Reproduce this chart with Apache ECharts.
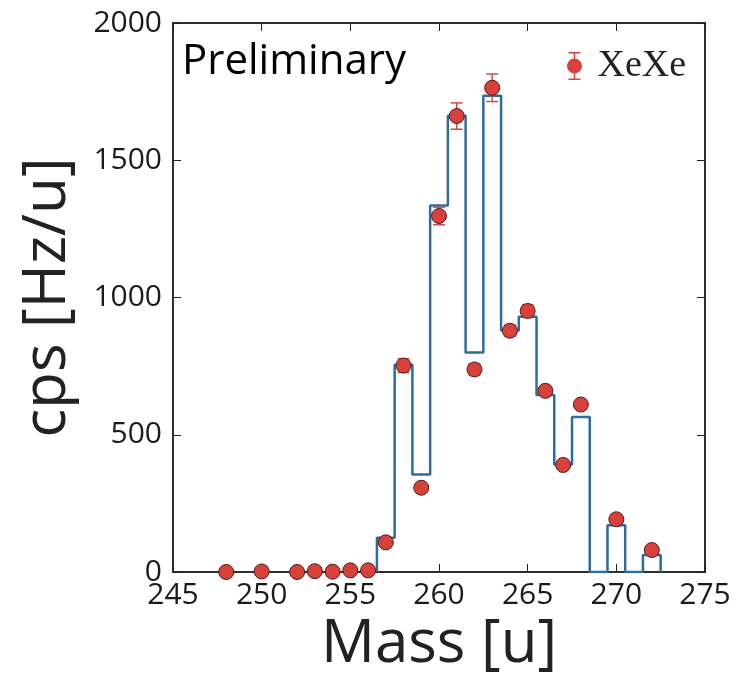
<!DOCTYPE html>
<html>
<head>
<meta charset="utf-8">
<script src="https://cdn.jsdelivr.net/npm/echarts@6/dist/echarts.min.js"></script>
<style>
  html, body { margin: 0; padding: 0; background: #fff; }
  #main { width: 743px; height: 674px; }
</style>
</head>
<body>
<div id="main"></div>
<script>
// histogram bins (bin centres) and their heights
var binMass = [257, 258, 259, 260, 261, 262, 263, 264, 265, 266, 267, 268, 269, 270, 271, 272];
var binCps = [125, 755, 355, 1335, 1662, 800, 1735, 880, 930, 645, 392, 565, 0, 170, 0, 62];

// measured points with error bars
var dotMass = [248, 250, 252, 253, 254, 255, 256, 257, 258, 259, 260, 261, 262,
  263, 264, 265, 266, 267, 268, 270, 272];
var dotCps = [0, 2, 0, 3, 1, 6, 6, 108, 752, 307, 1297, 1661, 738,
  1764, 879, 951, 660, 390, 610, 192, 80];
var dotErr = [3, 10, 3, 4, 4, 10, 10, 15, 25, 15, 32, 48, 20,
  50, 20, 22, 15, 12, 15, 10, 8];

var xTicks = [245, 250, 255, 260, 265, 270, 275];
var yTicks = [0, 500, 1000, 1500, 2000];

var chart = echarts.init(document.getElementById("main"));

// step line: rise from 0 at the first edge, left edge of each bin, close at last edge
var histData = [[binMass[0] - 0.5, 0]];
binMass.forEach(function (m, i) { histData.push([m - 0.5, binCps[i]]); });
histData.push([binMass[binMass.length - 1] + 0.5, 0]);

var dotData = dotMass.map(function (m, i) { return [m, dotCps[i]]; });
var errData = dotMass.map(function (m, i) { return [m, dotCps[i] - dotErr[i], dotCps[i] + dotErr[i]]; });

var tickFont = { fontFamily: "Open Sans", fontSize: 30, color: "#1a1a1a" };
var frame = { show: true, onZero: false, lineStyle: { color: "#222", width: 1.5 } };
var ticks = { show: true, inside: true, length: 8, lineStyle: { color: "#222" } };

var option = {
  animation: false,
  grid: {
    left: 173, right: 38, top: 23, bottom: 102,
    outerBoundsMode: "none",
    show: true, borderColor: "#222", borderWidth: 1.5
  },
  legend: {
    data: ["XeXe"],
    left: 562,
    top: 42,
    icon: "path://M7.3,0H8.7V28H7.3Z M2,0H14V1.4H2Z M2,26.6H14V28H2Z M8,6.5A7.5,7.5,0,1,1,7.99,6.5Z",
    itemWidth: 16,
    itemHeight: 28,
    itemStyle: { color: "#d9403a", borderWidth: 0 },
    textStyle: { fontFamily: "Liberation Serif", fontSize: 38, color: "#222", padding: [0, 0, 0, 10] }
  },
  graphic: [{
    type: "text",
    left: 182,
    top: 41,
    style: { text: "Preliminary", fontFamily: "Open Sans", fontSize: 42, fill: "#000" }
  }],
  xAxis: [{
    type: "value",
    min: 245, max: 275, interval: 5,
    name: "Mass [u]",
    nameLocation: "middle",
    nameGap: 34,
    nameTextStyle: { fontFamily: "Open Sans", fontSize: 60, color: "#222" },
    axisLine: frame,
    axisTick: ticks,
    axisLabel: Object.assign({ margin: 8, customValues: xTicks }, tickFont),
    splitLine: { show: false }
  }, {
    type: "value", position: "top",
    min: 245, max: 275, interval: 5,
    axisLine: frame,
    axisTick: ticks,
    axisLabel: { show: false },
    splitLine: { show: false }
  }],
  yAxis: [{
    type: "value",
    min: 0, max: 2000, interval: 500,
    name: "cps [Hz/u]",
    nameLocation: "middle",
    nameGap: 95,
    nameTextStyle: { fontFamily: "Open Sans", fontSize: 60, color: "#222" },
    axisLine: frame,
    axisTick: ticks,
    axisLabel: Object.assign({
      margin: 11,
      customValues: yTicks,
      formatter: function (v) { return String(v); }
    }, tickFont),
    splitLine: { show: false }
  }, {
    type: "value", position: "right",
    min: 0, max: 2000, interval: 500,
    axisLine: frame,
    axisTick: ticks,
    axisLabel: { show: false },
    splitLine: { show: false }
  }],
  series: [
    {
      name: "hist",
      type: "line",
      step: "end",
      data: histData,
      showSymbol: false,
      lineStyle: { color: "#2f6c9c", width: 2.5 },
      z: 2
    },
    {
      name: "err",
      type: "custom",
      data: errData,
      renderItem: function (params, api) {
        var x = api.value(0);
        var lo = api.coord([x, api.value(1)]);
        var hi = api.coord([x, api.value(2)]);
        var c = 6;
        var st = { stroke: "#c0504d", lineWidth: 1.5 };
        return {
          type: "group",
          children: [
            { type: "line", shape: { x1: lo[0], y1: lo[1], x2: hi[0], y2: hi[1] }, style: st },
            { type: "line", shape: { x1: lo[0] - c, y1: lo[1], x2: lo[0] + c, y2: lo[1] }, style: st },
            { type: "line", shape: { x1: hi[0] - c, y1: hi[1], x2: hi[0] + c, y2: hi[1] }, style: st }
          ]
        };
      },
      z: 3
    },
    {
      name: "XeXe",
      type: "scatter",
      data: dotData,
      symbolSize: 15,
      itemStyle: { color: "#d9403a", borderColor: "#4a1f1f", borderWidth: 1, opacity: 1 },
      z: 4
    }
  ]
};

option && chart.setOption(option);
</script>
</body>
</html>
